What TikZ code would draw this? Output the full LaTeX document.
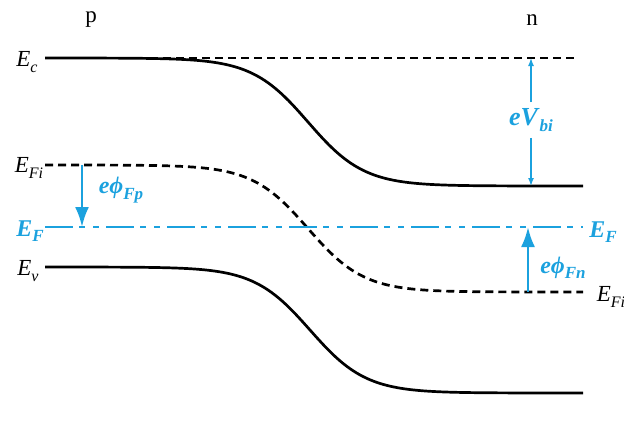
\documentclass[tikz,border=0pt]{standalone}
\usepackage{fontspec}
\setmainfont{Liberation Serif}
\usetikzlibrary{arrows.meta}
\definecolor{bandblue}{RGB}{27,161,222}
\newcommand\blab[2]{\textbf{\textit{#1}}\raisebox{-0.5ex}{\fontsize{17}{17}\selectfont\textbf{\textit{#2}}}}
\newcommand\ilab[2]{\textit{#1}\raisebox{-0.5ex}{\fontsize{16}{16}\selectfont\textit{#2}}}
\begin{document}
\begin{tikzpicture}[x=1pt,y=-1pt,
  band/.style={line width=2.7pt,black},
  fermi/.style={line width=2.7pt,bandblue,dash pattern=on 28pt off 6pt on 6pt off 8pt on 6pt off 7pt},
  intr/.style={line width=2.7pt,black,dash pattern=on 8pt off 5pt},
  refline/.style={line width=1.1pt,black,dash pattern=on 8pt off 5pt},
  lbl/.style={font=\fontsize{23}{25}\selectfont,inner sep=0pt},
  blbl/.style={font=\fontsize{24}{25}\selectfont,text=bandblue,inner sep=0pt},
  thinarrow/.style={line width=1.4pt,bandblue,-{Latex[length=8pt,width=6pt]}},
  bigarrow/.style={line width=2.7pt,bandblue,-{Latex[length=20pt,width=14pt]}}]
\useasboundingbox (0,0) rectangle (624,421);
% bands
\draw[refline] (150,58) -- (578,58);
\draw[band] plot[domain=45:583,samples=160,variable=\x] ({\x},{58+128*(1+tanh((\x-308)/56))/2});
\draw[intr] plot[domain=45:583,samples=160,variable=\x] ({\x},{165+127*(1+tanh((\x-308)/56))/2});
\draw[band] plot[domain=45:583,samples=160,variable=\x] ({\x},{267+126*(1+tanh((\x-310)/56))/2});
\draw[fermi] (45,227) -- (583,227);
% labels
\node[lbl] (p) at (91,20) {p};
\node[lbl] (n) at (532,20) {n};
\node[lbl] (ec) at (27,62) {\ilab{E}{c}};
\node[lbl] (efil) at (29,168) {\ilab{E}{Fi}};
\node[blbl] (efl) at (30,231) {\blab{E}{F}};
\node[lbl] (ev) at (28,271) {\ilab{E}{v}};
\node[blbl] (efr) at (603,232) {\blab{E}{F}};
\node[lbl] (efir) at (611,297) {\ilab{E}{Fi}};
% eVbi
\coordinate (vtop) at (531,58);
\coordinate (vbot) at (531,186);
\node[blbl,font=\fontsize{26}{27}\selectfont,inner ysep=6pt] (vbi) at (531,120) {\blab{eV}{bi}};
\draw[thinarrow] (vbi.north -| vtop) -- (vtop);
\draw[thinarrow] (vbi.south -| vbot) -- (vbot);
% e phi Fp
\coordinate (fpt) at (82,165);
\coordinate (fpb) at (82,227);
\draw[bigarrow] (fpt) -- (fpb);
\node[blbl] (phip) at (121,190) {\blab{eϕ}{Fp}};
% e phi Fn
\coordinate (fnb) at (528,292);
\coordinate (fnt) at (528,227);
\draw[bigarrow] (fnb) -- (fnt);
\node[blbl] (phin) at (563,268) {\blab{eϕ}{Fn}};
\end{tikzpicture}
\end{document}
